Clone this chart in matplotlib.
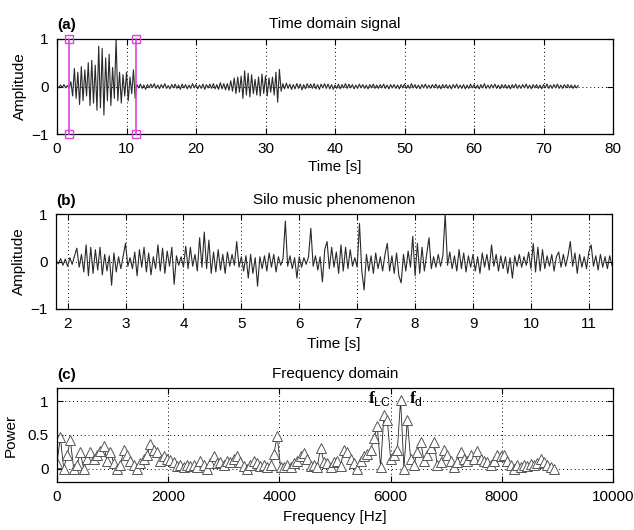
import matplotlib
matplotlib.use('Agg')
import matplotlib.pyplot as plt
import numpy as np

plt.rcParams['font.family'] = ['Liberation Sans', 'DejaVu Sans']
plt.rcParams['mathtext.fontset'] = 'custom'
plt.rcParams['mathtext.rm'] = 'Liberation Sans'
plt.rcParams['mathtext.bf'] = 'Liberation Serif:bold'

# ---------------- data ----------------
# (a) time domain signal, sampled every 0.25 s from 0 s (values in hundredths)
t0_a, dt_a = 0.0, 0.25
amp_a_pct = [
    2, -3, 3, -2, 4, -3, 2, -4,
    10, -20, 38, -25, 30, -38, 42, -30, 35, -20, 50, -40, 55, -35, 45, -50, 85, -45, 80, -60,
    60, -30, 68, -40, 40, -25, 100, -30, 30, -35, 25, -20, 30, -30, 20, -15, 35, -25,
    4, -3, 5, -4, 3, -6, 4, -3, 5, -2, 6, -4, 3, -5, 4, -3, 6, -4, 2, -5,
    4, -3, 5, -4, 3, -6, 5, -3, 4, -5, 3, -4, 6, -3, 4, -5, 3, -4, 5, -6,
    4, -3, 5, -4, 6, -5, 4, -6, 8, -5, 6, -7,
    6, -8, 12, -10, 18, -15, 20, -12, 22, -25, 33, -18, 28, -22, 25, -15, 15, -18, 20, -20,
    26, -15, 22, -20, 18, -12, 20, -18, 30, -33, 36, -10,
    6, -5, 7, -4, 5, -6, 4, -5, 6, -4, 5, -7, 4, -5, 6, -3, 5, -4, 6, -5,
    4, -6, 5, -3, 6, -4, 5, -5, 4, -6, 3, -4, 5, -5, 4, -3, 6, -4, 5, -3,
    4, -5, 3, -4, 5, -3, 4, -4, 3, -5, 4, -3, 5, -4, 3, -4, 4, -3, 5, -4,
    3, -5, 4, -3, 4, -4, 3, -5, 4, -3, 5, -4, 3, -4, 6, -3, 4, -4, 3, -5,
    4, -3, 5, -4, 3, -4, 4, -3, 5, -4, 3, -5, 4, -3, 4, -4, 3, -5, 4, -3,
    5, -4, 3, -4, 4, -5, 3, -4, 5, -3, 4, -4, 3, -5, 4, -3, 6, -4, 3, -4,
    4, -3, 5, -4, 3, -5, 4, -3, 4, -4, 3, -5, 4, -3, 5, -4, 3, -4, 4, -3,
    5, -4, 3, -5, 4, -3, 4, -4, 3, -5, 4, -3, 5, -4, 3, -4, 4, -3, 5, -4,
    3, -4, 4, -3, 4, -3, 3, -4, 3, -3, 2,
]
zoom_window = [1.75, 11.3]

# (b) silo music phenomenon, sampled every 0.04 s from 1.8 s (hundredths)
t0_b, dt_b = 1.8, 0.04
amp_b_pct = [
    3, -5, 6, -8, 5, -10, 8, -6, 12, 28, -12, 15, -22, 35, -30, 30, -25, 25, -18, 30,
    -28, 15, -20, 12, -50, 18, -22, 10, -15, 12, 38, -10, 8, -15, 20, -30, 25, -12, 30, -22,
    18, -28, 10, -15, 35, -20, 28, -25, 22, -10, 30, -48, 12, -8, 10, -12, 32, -15, 30, -10,
    15, -20, 50, -12, 62, -15, 45, -25, 20, -22, 25, -18, 15, -25, 20, -10, 15, -8, 42, -12,
    10, -20, 12, -35, 15, -25, 8, -52, 10, -15, 12, -20, 18, -12, 15, -22, 10, -8, 6, 85,
    -10, 12, -15, 8, -35, 10, -12, 8, -6, 10, 70, -10, 12, -18, 10, -43, 25, 42, -15, 30,
    -12, 20, -25, 35, -20, 30, -15, 25, -10, 8, -12, 80, -20, -60, 15, -20, 12, -25, 18, -15,
    10, -20, 15, 38, -20, 12, -25, 18, -30, -45, 15, -20, 22, -12, 53, -30, 38, -25, 30, -20,
    15, 50, -15, 10, -12, 15, -10, 12, 100, -8, 20, -15, 12, -20, 25, -15, 18, -22, 12, -12,
    15, -20, 10, -25, 18, -12, 15, -18, 35, -10, 15, -20, 12, -15, 10, -25, 8, -35, 12, -10,
    15, -12, 10, -8, 20, -15, 38, -22, 30, -20, 25, -15, 12, -10, 15, -20, 10, 20, -12, 15,
    -10, 12, 42, -10, 18, -25, 15, -12, 10, -15, 20, 35, -10, 12, -18, 15, -12, 10, -15, 12,
    -8,
]

# (c) frequency domain, one value every 60 Hz from 0 Hz
f0_c, df_c = 0.0, 60.0
power_c = [
    0.08, 0.47, 0.00, 0.20, 0.42, 0.00, 0.05, 0.24, 0.00, 0.14,
    0.24, 0.15, 0.20, 0.26, 0.34, 0.11, 0.25, 0.08, 0.00, 0.05,
    0.27, 0.20, 0.12, 0.05, 0.00, 0.09, 0.15, 0.20, 0.37, 0.27,
    0.25, 0.12, 0.18, 0.15, 0.13, 0.10, 0.04, 0.05, 0.03, 0.05,
    0.04, 0.06, 0.03, 0.12, 0.05, 0.00, 0.08, 0.18, 0.08, 0.10,
    0.05, 0.12, 0.10, 0.14, 0.19, 0.10, 0.04, 0.00, 0.06, 0.12,
    0.08, 0.04, 0.06, 0.03, 0.05, 0.22, 0.48, 0.03, 0.02, 0.05,
    0.03, 0.08, 0.12, 0.18, 0.23, 0.15, 0.04, 0.06, 0.02, 0.31,
    0.10, 0.08, 0.03, 0.10, 0.12, 0.04, 0.28, 0.25, 0.15, 0.08,
    0.00, 0.12, 0.18, 0.22, 0.27, 0.45, 0.63, 0.02, 0.80, 0.73,
    0.15, 0.20, 0.27, 1.02, 0.00, 0.73, 0.15, 0.06, 0.25, 0.40,
    0.12, 0.20, 0.30, 0.40, 0.05, 0.10, 0.27, 0.20, 0.12, 0.02,
    0.10, 0.24, 0.15, 0.12, 0.20, 0.15, 0.26, 0.15, 0.12, 0.10,
    0.05, 0.12, 0.20, 0.18, 0.20, 0.12, 0.06, 0.00, 0.05, 0.03,
    0.06, 0.04, 0.07, 0.05, 0.08, 0.14, 0.10, 0.06, 0.03, 0.00,
]
annotations_c = [(r'$\mathbf{f}_{\mathrm{LC}}$', 5590, 0.97), (r'$\mathbf{f}_{\mathrm{d}}$', 6330, 0.97)]

amp_a = np.array(amp_a_pct) / 100.0
t_a = t0_a + dt_a * np.arange(len(amp_a))
amp_b = np.array(amp_b_pct) / 100.0
t_b = t0_b + dt_b * np.arange(len(amp_b))
power = np.array(power_c)
freq = f0_c + df_c * np.arange(len(power))

# ---------------- figure ----------------
W, H = 634, 530
fig = plt.figure(figsize=(W / 100, H / 100), dpi=100)
ax_a = fig.add_axes([57 / W, 1 - 134 / H, 556 / W, 95 / H])
ax_b = fig.add_axes([56 / W, 1 - 309 / H, 556 / W, 95 / H])
ax_c = fig.add_axes([57 / W, 1 - 482 / H, 556 / W, 94 / H])

FS = 11
grid_ls = (0, (1, 3))

def style(ax):
    for s in ax.spines.values():
        s.set_linewidth(0.9)
        s.set_color('black')
    ax.tick_params(direction='in', top=True, right=True, length=4, width=0.8,
                   labelsize=FS, pad=6, colors='black')
    ax.grid(True, linestyle=grid_ls, color='black', linewidth=0.7)
    ax.set_axisbelow(True)

# (a)
ax_a.plot(t_a, amp_a, color='#2a2a2a', lw=0.8)
for xv in zoom_window:
    ax_a.plot([xv, xv], [-1, 1], color='#DD44DD', lw=1.2, marker='s', ms=6,
              mfc='none', mec='#DD44DD', mew=1.0, clip_on=False, zorder=5)
ax_a.set_xlim(0, 80)
ax_a.set_ylim(-1, 1)
ax_a.set_xticks(np.arange(0, 81, 10))
ax_a.set_yticks([-1, 0, 1])
ax_a.set_yticklabels(['\u22121', '0', '1'])
style(ax_a)
ax_a.set_title('Time domain signal', fontsize=FS, pad=8)
ax_a.set_xlabel('Time [s]', fontsize=FS)
ax_a.set_ylabel('Amplitude', fontsize=FS)
ax_a.xaxis.set_label_coords(0.5, -0.27)
ax_a.yaxis.set_label_coords(-0.054, 0.5)
ax_a.text(0.0, 1.11, '(a)', transform=ax_a.transAxes, fontsize=FS,
          fontweight='bold', ha='left', va='baseline')

# (b)
ax_b.plot(t_b, amp_b, color='#2a2a2a', lw=0.8)
ax_b.set_xlim(1.8, 11.4)
ax_b.set_ylim(-1, 1)
ax_b.set_xticks(np.arange(2, 12, 1))
ax_b.set_yticks([-1, 0, 1])
ax_b.set_yticklabels(['\u22121', '0', '1'])
style(ax_b)
ax_b.set_title('Silo music phenomenon', fontsize=FS, pad=7)
ax_b.set_xlabel('Time [s]', fontsize=FS)
ax_b.set_ylabel('Amplitude', fontsize=FS)
ax_b.xaxis.set_label_coords(0.5, -0.29)
ax_b.yaxis.set_label_coords(-0.054, 0.5)
ax_b.text(0.0, 1.09, '(b)', transform=ax_b.transAxes, fontsize=FS,
          fontweight='bold', ha='left', va='baseline')

# (c)
ax_c.plot(freq, power, color='#222222', lw=0.6, marker='^', ms=6.5,
          mfc='white', mec='#555555', mew=0.7)
for txt, xv, yv in annotations_c:
    ax_c.text(xv, yv, txt, fontsize=12.5, ha='left', va='baseline', color='black')
ax_c.set_xlim(0, 10000)
ax_c.set_ylim(-0.2, 1.2)
ax_c.set_xticks(np.arange(0, 10001, 2000))
ax_c.set_yticks([0, 0.5, 1])
ax_c.set_yticklabels(['0', '0.5', '1'])
style(ax_c)
ax_c.set_title('Frequency domain', fontsize=FS, pad=7)
ax_c.set_xlabel('Frequency [Hz]', fontsize=FS)
ax_c.set_ylabel('Power', fontsize=FS)
ax_c.xaxis.set_label_coords(0.5, -0.30)
ax_c.yaxis.set_label_coords(-0.07, 0.5)
ax_c.text(0.0, 1.10, '(c)', transform=ax_c.transAxes, fontsize=FS,
          fontweight='bold', ha='left', va='baseline')

fig.savefig('out.png', dpi=100)
